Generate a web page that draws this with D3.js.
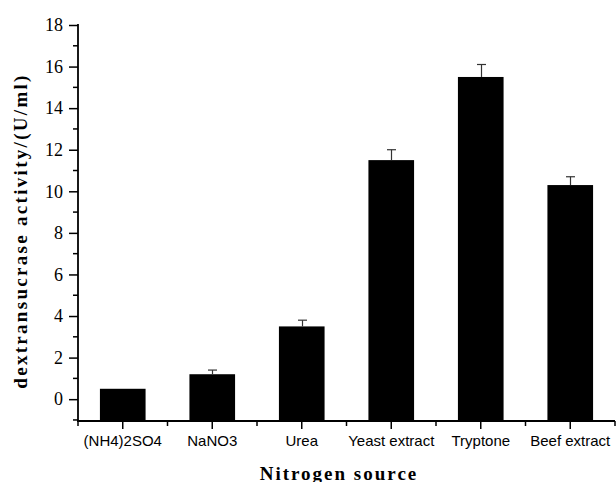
<!DOCTYPE html>
<html>
<head>
<meta charset="utf-8">
<script src="https://cdn.jsdelivr.net/npm/d3@7"></script>
<style>
  body { margin: 0; background: #fff; }
  svg { display: block; }
</style>
</head>
<body>
<div id="chart"></div>
<script>
// data
var sources = ["(NH4)2SO4", "NaNO3", "Urea", "Yeast extract", "Tryptone", "Beef extract"];
var activity = [0.5, 1.2, 3.5, 11.5, 15.5, 10.3];
var errors = [0, 0.2, 0.3, 0.5, 0.6, 0.4];
var yTicks = [0, 2, 4, 6, 8, 10, 12, 14, 16, 18];

var width = 616, height = 482;
var margin = {top: 25, right: 1, bottom: 61, left: 78};
var serif = "'Liberation Serif', 'Times New Roman', serif";

var svg = d3.select("#chart").append("svg")
  .attr("width", width)
  .attr("height", height);

var x = d3.scaleBand()
  .domain(sources)
  .range([margin.left, width - margin.right])
  .paddingInner(0.49)
  .paddingOuter(0.245);

var y = d3.scaleLinear()
  .domain([-1.05, 18])
  .range([421, 25]);

var step = x.step();

// bars
svg.append("g").selectAll("rect")
  .data(sources)
  .enter().append("rect")
  .attr("x", function(d) { return x(d); })
  .attr("width", x.bandwidth())
  .attr("y", function(d, i) { return y(activity[i]); })
  .attr("height", function(d, i) { return y(-1.05) - y(activity[i]); })
  .attr("fill", "#000");

// error bars (upper only)
var eb = svg.append("g").attr("stroke", "#333").attr("stroke-width", 1.2);
sources.forEach(function(d, i) {
  if (!errors[i]) return;
  var cx = Math.round(x(d) + x.bandwidth() / 2) + 0.5;
  eb.append("line")
    .attr("x1", cx).attr("x2", cx)
    .attr("y1", y(activity[i])).attr("y2", y(activity[i] + errors[i]));
  eb.append("line")
    .attr("x1", cx - 4.5).attr("x2", cx + 4.5)
    .attr("y1", y(activity[i] + errors[i])).attr("y2", y(activity[i] + errors[i]));
});

// y axis
var yAxis = svg.append("g")
  .attr("transform", "translate(" + margin.left + ",0)")
  .attr("font-family", null).attr("font-size", null)
  .call(d3.axisLeft(y).tickValues(yTicks).tickSize(9).tickPadding(6).tickSizeOuter(0));
yAxis.select(".domain").remove();
yAxis.selectAll(".tick line").attr("stroke-width", 1.5);
yAxis.selectAll(".tick text")
  .style("font-family", serif)
  .style("font-size", "18px")
  .attr("fill", "#000");

// y minor ticks
svg.append("g").selectAll("line")
  .data(d3.range(-1, 18, 2))
  .enter().append("line")
  .attr("x1", margin.left - 5).attr("x2", margin.left)
  .attr("y1", function(d) { return y(d); })
  .attr("y2", function(d) { return y(d); })
  .attr("stroke", "#000").attr("stroke-width", 1.5);

svg.append("line")
  .attr("x1", margin.left).attr("x2", margin.left)
  .attr("y1", y(18) - 1).attr("y2", 422)
  .attr("stroke", "#000").attr("stroke-width", 1.8);

// x axis
var xAxis = svg.append("g")
  .attr("transform", "translate(0,421)")
  .call(d3.axisBottom(x).tickSize(8).tickPadding(6).tickSizeOuter(0));
xAxis.select(".domain").remove();
xAxis.selectAll(".tick line").attr("stroke-width", 1.5);
xAxis.selectAll(".tick text")
  .style("font-family", "'Liberation Sans', Arial, sans-serif")
  .style("font-size", "15px")
  .attr("fill", "#000");

// x minor ticks at category boundaries
svg.append("g").selectAll("line")
  .data(d3.range(sources.length + 1))
  .enter().append("line")
  .attr("x1", function(i) { return margin.left + i * step; })
  .attr("x2", function(i) { return margin.left + i * step; })
  .attr("y1", 421).attr("y2", 426)
  .attr("stroke", "#000").attr("stroke-width", 1.5);

svg.append("line")
  .attr("x1", margin.left - 1).attr("x2", width - margin.right)
  .attr("y1", 421).attr("y2", 421)
  .attr("stroke", "#000").attr("stroke-width", 1.8);

// axis titles
svg.append("text")
  .attr("x", 339).attr("y", 480)
  .attr("text-anchor", "middle")
  .style("font-family", serif)
  .style("font-weight", "bold")
  .style("font-size", "19px")
  .style("letter-spacing", "2px")
  .text("Nitrogen source");

svg.append("text")
  .attr("transform", "translate(27,231) rotate(-90)")
  .attr("text-anchor", "middle")
  .style("font-family", serif)
  .style("font-weight", "bold")
  .style("font-size", "19px")
  .style("letter-spacing", "2.3px")
  .text("dextransucrase activity/(U/ml)");
</script>
</body>
</html>
